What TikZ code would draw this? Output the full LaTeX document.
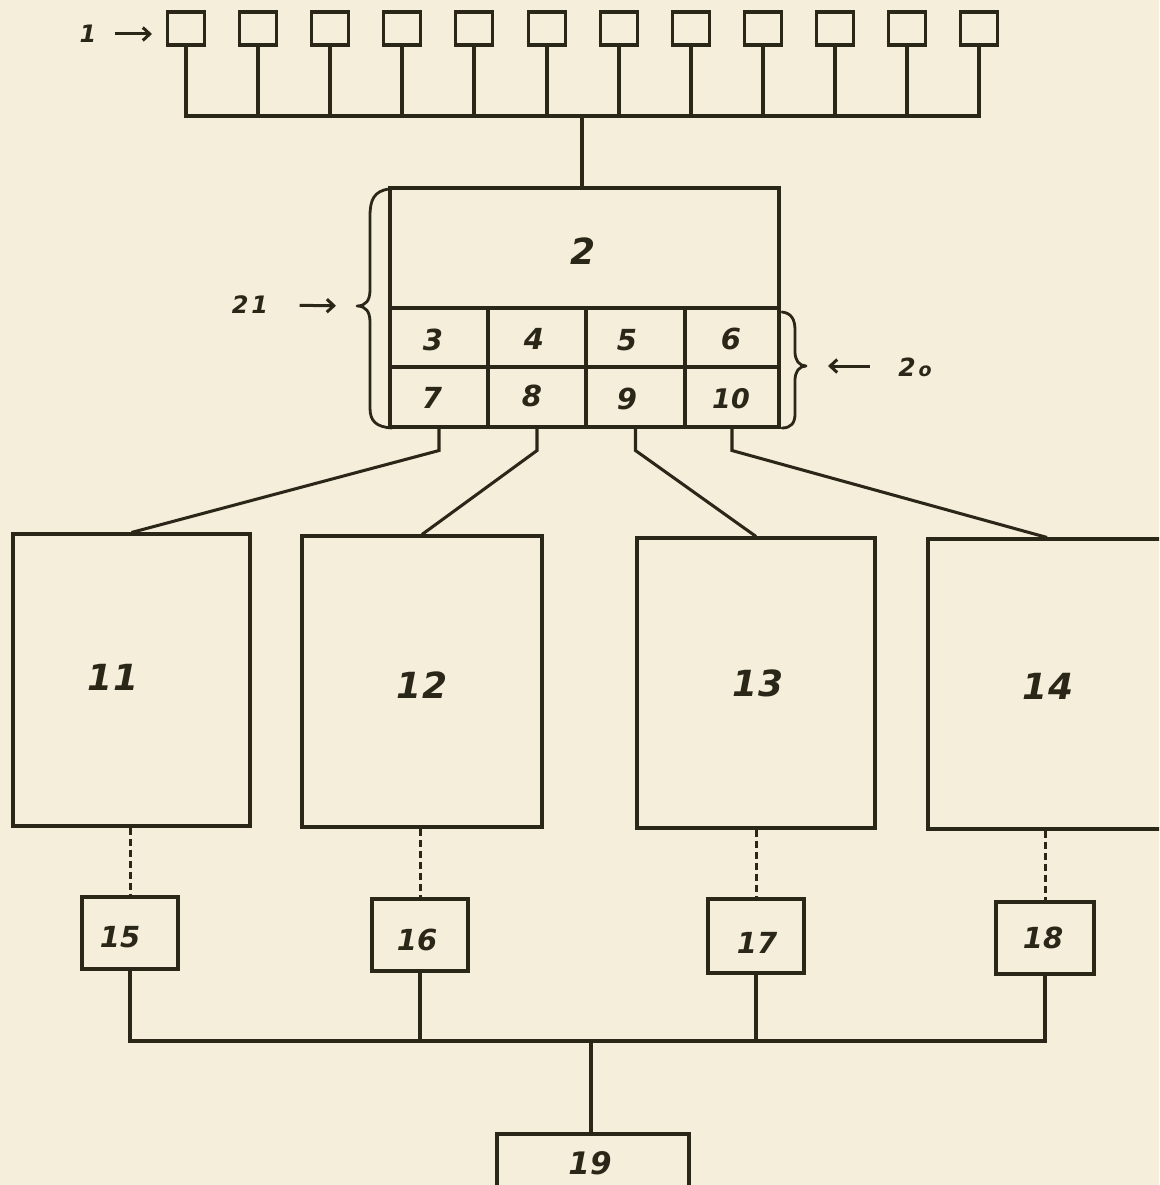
\documentclass[tikz,border=0pt]{standalone}
\usepackage{fontspec}
\newfontfamily\hand{DejaVu Sans}
\usetikzlibrary{arrows.meta}
\definecolor{paper}{HTML}{F5EEDB}
\definecolor{ink}{HTML}{2B2718}
\begin{document}
\begin{tikzpicture}[x=1pt,y=-1pt,line width=3.05pt,draw=ink,
  blk/.style={draw=ink,line width=3.05pt,inner sep=0pt,minimum width=#1},
  num/.style={text=ink,inner sep=0pt,font=\hand\bfseries\itshape\fontsize{#1}{#1}\selectfont},
  dsh/.style={draw=ink,line width=3pt,dash pattern=on 7pt off 4pt},
  arr/.style={draw=ink,line width=3pt,-{Straight Barb[length=7pt,width=13pt,line width=3pt]}},
  brc/.style={draw=ink,line width=2.8pt,line cap=round,line join=round}]
\fill[paper] (0,0) rectangle (1159,1185);
\useasboundingbox (0,0) rectangle (1159,1185);
\clip (0,0) rectangle (1159,1185);

% ---- top row of twelve units (1)
\coordinate (bus1) at (582,116);
\foreach \i in {0,...,11}{
  \pgfmathsetmacro\xx{round(186+72.1*\i)}
  \node[blk=37pt,minimum height=33pt] (s\i) at (\xx,28.5) {};
}
\foreach \i in {1,...,10}{ \draw (s\i.south) -- (s\i.south |- bus1); }
\draw (s0.south) -- (s0.south |- bus1) -- (s11.south |- bus1) -- (s11.south);
\node[num=24] (l1) at (88,34) {1};
\draw[arr,shorten <=17pt,shorten >=14pt] (l1.east) -- (l1.east -| s0.west);

% ---- central unit 2 with cells 3..10
\node[blk=389pt,minimum height=120pt] (b2) at (584.5,248) {};
\draw (bus1) -- (bus1 |- b2.north);
\node[num=36] (t2) at (583,251) {2};
\node[blk=98pt,minimum height=59pt] (c3) at (439,337.5) {};
\node[blk=98pt,minimum height=59pt] (c4) at (537,337.5) {};
\node[blk=99pt,minimum height=59pt] (c5) at (635.5,337.5) {};
\node[blk=94pt,minimum height=59pt] (c6) at (732,337.5) {};
\node[blk=98pt,minimum height=60pt] (c7) at (439,397) {};
\node[blk=98pt,minimum height=60pt] (c8) at (537,397) {};
\node[blk=99pt,minimum height=60pt] (c9) at (635.5,397) {};
\node[blk=94pt,minimum height=60pt] (c10) at (732,397) {};
\node[num=29] (t3) at (433,340) {3};
\node[num=29] (t4) at (534,339) {4};
\node[num=29] (t5) at (627,340) {5};
\node[num=29] (t6) at (731,339) {6};
\node[num=29] (t7) at (432,398) {7};
\node[num=29] (t8) at (532,396) {8};
\node[num=29] (t9) at (627,399) {9};
\node[num=27] (t10) at (731,399) {10};

% ---- braces 21 and 20
\coordinate (tip21) at (357,306);
\coordinate (tip20) at (806,366);
\draw[brc] (389,189) .. controls (374,191) and (370,200) .. (370,216) -- (370,290)
  .. controls (370,300) and (366,306) .. (tip21)
  .. controls (366,306) and (370,312) .. (370,322) -- (370,408)
  .. controls (370,421) and (376,427) .. (392,428);
\draw[brc] (782,312) .. controls (791,313) and (795,319) .. (795,330) -- (795,352)
  .. controls (795,360) and (799,366) .. (tip20)
  .. controls (799,366) and (795,372) .. (795,380) -- (795,414)
  .. controls (795,423) and (791,428) .. (782,428);
\node[num=24] (l21) at (250,305) {2\kern0.12em1};
\draw[arr,shorten <=30pt,shorten >=21pt] (l21.east) -- (tip21);
\node[num=25] (l20) at (915,367) {2\kern0.12em{\fontsize{19}{19}\selectfont o}};
\draw[arr,shorten <=27pt,shorten >=22pt] (l20.west |- tip20) -- (tip20);

% ---- four large units 11..14
\node[blk=237pt,minimum height=292pt] (b11) at (131.5,680) {};
\node[blk=240pt,minimum height=291pt] (b12) at (422,681.5) {};
\node[blk=238pt,minimum height=290pt] (b13) at (756,683) {};
\node[blk=238pt,minimum height=290pt] (b14) at (1047,684) {};
\node[num=36] (t11) at (113,677) {11};
\node[num=36] (t12) at (422,685) {12};
\node[num=36] (t13) at (758,683) {13};
\node[num=36] (t14) at (1048,686) {14};
\draw (c7.south) -- ++(0,22) -- (b11.north);
\draw (c8.south) -- ++(0,22) -- (b12.north);
\draw (c9.south) -- ++(0,22) -- (b13.north);
\draw (c10.south) -- ++(0,22) -- (b14.north);

% ---- small units 15..18
\node[blk=96pt,minimum height=72pt] (b15) at (130,933) {};
\node[blk=96pt,minimum height=72pt] (b16) at (420,935) {};
\node[blk=96pt,minimum height=74pt] (b17) at (756,936) {};
\node[blk=98pt,minimum height=72pt] (b18) at (1045,938) {};
\node[num=29] (t15) at (120,937) {15};
\node[num=29] (t16) at (417,940) {16};
\node[num=29] (t17) at (757,943) {17};
\node[num=29] (t18) at (1043,938) {18};
\draw[dsh] (b15.north |- b11.south) -- (b15.north);
\draw[dsh] (b16.north |- b12.south) -- (b16.north);
\draw[dsh] (b17.north |- b13.south) -- (b17.north);
\draw[dsh] (b18.north |- b14.south) -- (b18.north);

% ---- collector 19
\coordinate (bus2) at (591,1041);
\node[blk=192pt,minimum height=70pt] (b19) at (593,1169) {};
\node[num=31] (t19) at (590,1163) {19};
\draw (b15.south) -- (b15.south |- bus2) -- (b18.south |- bus2) -- (b18.south);
\draw (b16.south) -- (b16.south |- bus2);
\draw (b17.south) -- (b17.south |- bus2);
\draw (bus2) -- (bus2 |- b19.north);
\end{tikzpicture}
\end{document}
